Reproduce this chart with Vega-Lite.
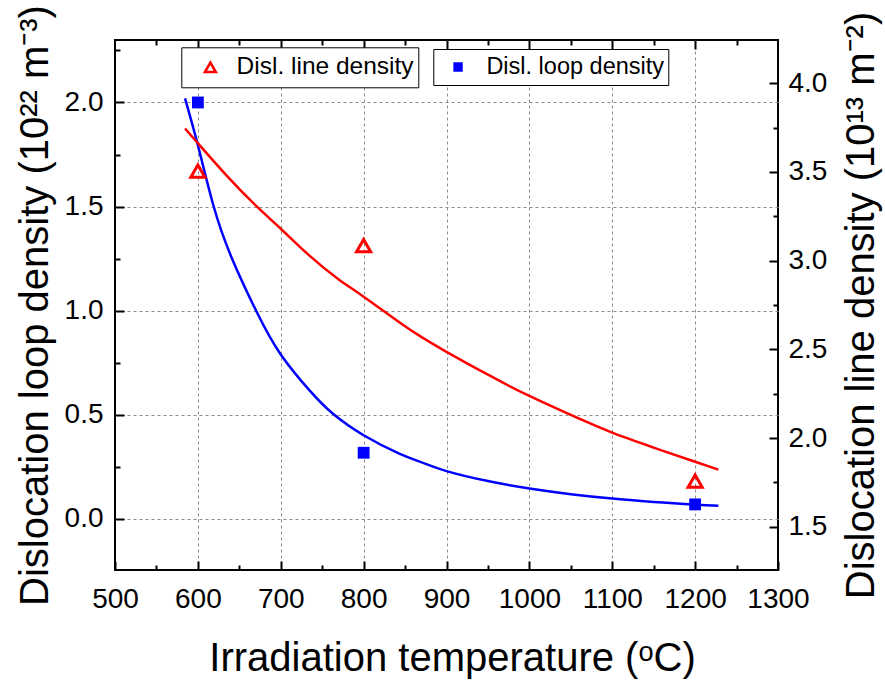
{
  "$schema": "https://vega.github.io/schema/vega-lite/v6.json",
  "width": 663,
  "height": 530,
  "autosize": {"type": "none"},
  "padding": {"left": 115, "top": 40, "right": 107, "bottom": 115},
  "config": {
    "view": {"stroke": "black", "strokeWidth": 2},
    "font": "Liberation Sans",
    "axis": {
      "domain": false,
      "tickColor": "black",
      "tickWidth": 2,
      "labelColor": "black",
      "titleColor": "black",
      "labelFont": "Liberation Sans",
      "titleFont": "Liberation Sans",
      "titleFontWeight": "normal",
      "gridColor": "#8c8c8c",
      "gridDash": [3, 3],
      "gridWidth": 1,
      "labelFlush": false,
      "labelOverlap": false
    }
  },
  "datasets": {
    "loopPts": [
      {"T": 600, "v": 2.0, "series": "Disl. loop density"},
      {"T": 800, "v": 0.318, "series": "Disl. loop density"},
      {"T": 1200, "v": 0.07, "series": "Disl. loop density"}
    ],
    "linePts": [
      {"T": 600, "v": 3.505, "series": "Disl. line density"},
      {"T": 800, "v": 3.085, "series": "Disl. line density"},
      {"T": 1200, "v": 1.757, "series": "Disl. line density"}
    ],
    "loopFit": [
      {"T": 584.5, "v": 2.02},
      {"T": 600, "v": 1.795},
      {"T": 618.4, "v": 1.51},
      {"T": 640, "v": 1.262},
      {"T": 671.5, "v": 0.99},
      {"T": 700, "v": 0.79},
      {"T": 735, "v": 0.616},
      {"T": 763, "v": 0.505},
      {"T": 800, "v": 0.402},
      {"T": 843, "v": 0.314},
      {"T": 870, "v": 0.272},
      {"T": 900, "v": 0.23},
      {"T": 950, "v": 0.182},
      {"T": 1000, "v": 0.146},
      {"T": 1050, "v": 0.119},
      {"T": 1100, "v": 0.098},
      {"T": 1150, "v": 0.082},
      {"T": 1200, "v": 0.068},
      {"T": 1228, "v": 0.063}
    ],
    "lineFit": [
      {"T": 584.5, "v": 3.745},
      {"T": 600, "v": 3.662},
      {"T": 635, "v": 3.478},
      {"T": 670.7, "v": 3.307},
      {"T": 700, "v": 3.18},
      {"T": 735, "v": 3.027},
      {"T": 770, "v": 2.894},
      {"T": 800, "v": 2.797},
      {"T": 843, "v": 2.653},
      {"T": 870, "v": 2.569},
      {"T": 900, "v": 2.486},
      {"T": 950, "v": 2.357},
      {"T": 1000, "v": 2.237},
      {"T": 1050, "v": 2.13},
      {"T": 1100, "v": 2.03},
      {"T": 1150, "v": 1.946},
      {"T": 1200, "v": 1.866},
      {"T": 1228, "v": 1.822}
    ]
  },
  "layer": [
    {
      "data": {"name": "loopFit"},
      "mark": {"type": "line", "color": "#0000ff", "strokeWidth": 2.5, "interpolate": "natural"},
      "encoding": {
        "x": {
          "field": "T", "type": "quantitative",
          "scale": {"domain": [500, 1300], "nice": false, "zero": false},
          "axis": {
            "orient": "bottom",
            "title": "Irradiation temperature (ᵒC)",
            "values": [500, 600, 700, 800, 900, 1000, 1100, 1200, 1300],
            "format": "d",
            "tickSize": -9,
            "labelFontSize": 28,
            "labelBaseline": "alphabetic",
            "labelPadding": 46,
            "grid": false,
            "titleFontSize": 40,
            "titleX": 337,
            "titleY": 100,
            "titleAlign": "center",
            "titleBaseline": "alphabetic"
          }
        },
        "y": {
          "field": "v", "type": "quantitative",
          "scale": {"domain": [-0.245, 2.3], "nice": false, "zero": false},
          "axis": {
            "orient": "left",
            "title": "Dislocation loop density (10²² m⁻³)",
            "values": [0, 0.5, 1, 1.5, 2],
            "format": ".1f",
            "tickSize": -9,
            "labelPadding": 21,
            "labelFontSize": 28,
            "grid": true,
            "titleFontSize": 40,
            "titleAngle": 270,
            "titleX": -68,
            "titleY": 265,
            "titleAlign": "center",
            "titleBaseline": "alphabetic"
          }
        }
      }
    },
    {
      "data": {"name": "lineFit"},
      "mark": {"type": "line", "color": "#ff0000", "strokeWidth": 2.5, "interpolate": "natural"},
      "encoding": {
        "x": {
          "field": "T", "type": "quantitative",
          "scale": {"domain": [500, 1300], "nice": false, "zero": false},
          "axis": {
            "orient": "bottom",
            "values": [550, 650, 750, 850, 950, 1050, 1150, 1250],
            "tickSize": -5,
            "labels": false,
            "grid": false,
            "title": null
          }
        },
        "y": {
          "field": "v", "type": "quantitative",
          "scale": {"domain": [1.256, 4.244], "nice": false, "zero": false},
          "axis": {
            "orient": "right",
            "title": "Dislocation line density (10¹³ m⁻²)",
            "values": [1.5, 2, 2.5, 3, 3.5, 4],
            "format": ".1f",
            "tickSize": -9,
            "labelPadding": 19,
            "labelFontSize": 28,
            "grid": false,
            "titleFontSize": 40,
            "titleAngle": 270,
            "titleX": 95,
            "titleY": 265,
            "titleAlign": "center",
            "titleBaseline": "alphabetic"
          }
        }
      }
    },
    {
      "data": {"name": "loopPts"},
      "mark": {"type": "point", "filled": true, "color": "#0000ff", "size": 140, "opacity": 1},
      "encoding": {
        "x": {
          "field": "T", "type": "quantitative",
          "scale": {"domain": [500, 1300], "nice": false, "zero": false},
          "axis": {
            "orient": "top",
            "values": [600, 700, 800, 900, 1000, 1100, 1200],
            "tickSize": -9,
            "labels": false,
            "grid": true,
            "title": null
          }
        },
        "y": {
          "field": "v", "type": "quantitative",
          "scale": {"domain": [-0.245, 2.3], "nice": false, "zero": false},
          "axis": {
            "orient": "left",
            "values": [0.25, 0.75, 1.25, 1.75, 2.25],
            "tickSize": -5,
            "labels": false,
            "grid": false,
            "title": null
          }
        },
        "shape": {
          "field": "series", "type": "nominal",
          "scale": {"domain": ["Disl. loop density"], "range": ["square"]},
          "legend": {
            "orient": "none",
            "legendX": 318.3,
            "legendY": 9,
            "title": null,
            "padding": 4,
            "strokeColor": "black",
            "fillColor": "white",
            "symbolType": "square",
            "symbolSize": 88,
            "symbolFillColor": "#0000ff",
            "symbolStrokeWidth": 0,
            "symbolOffset": 9,
            "labelOffset": 16.6,
            "labelFontSize": 23.5,
            "labelLimit": 400,
            "labelFont": "Liberation Sans",
            "labelColor": "black",
            "clipHeight": 28
          }
        }
      }
    },
    {
      "data": {"name": "linePts"},
      "mark": {"type": "point", "filled": false, "color": "#ff0000", "strokeWidth": 3, "size": 200, "opacity": 1},
      "encoding": {
        "x": {
          "field": "T", "type": "quantitative",
          "scale": {"domain": [500, 1300], "nice": false, "zero": false},
          "axis": {
            "orient": "top",
            "values": [550, 650, 750, 850, 950, 1050, 1150, 1250],
            "tickSize": -5,
            "labels": false,
            "grid": false,
            "title": null
          }
        },
        "y": {
          "field": "v", "type": "quantitative",
          "scale": {"domain": [1.256, 4.244], "nice": false, "zero": false},
          "axis": {
            "orient": "right",
            "values": [1.75, 2.25, 2.75, 3.25, 3.75],
            "tickSize": -5,
            "labels": false,
            "grid": false,
            "title": null
          }
        },
        "shape": {
          "field": "series", "type": "nominal",
          "scale": {"domain": ["Disl. line density"], "range": ["triangle-up"]},
          "legend": {
            "orient": "none",
            "legendX": 66.3,
            "legendY": 7.3,
            "title": null,
            "padding": 4,
            "strokeColor": "black",
            "fillColor": "white",
            "symbolType": "triangle-up",
            "symbolSize": 120,
            "symbolStrokeColor": "#ff0000",
            "symbolStrokeWidth": 2.5,
            "symbolOffset": 12.8,
            "labelOffset": 14,
            "labelFontSize": 24.5,
            "labelLimit": 400,
            "labelFont": "Liberation Sans",
            "labelColor": "black",
            "clipHeight": 32
          }
        }
      }
    }
  ],
  "resolve": {
    "scale": {"x": "independent", "y": "independent", "shape": "independent"},
    "axis": {"x": "independent", "y": "independent"},
    "legend": {"shape": "independent"}
  }
}
